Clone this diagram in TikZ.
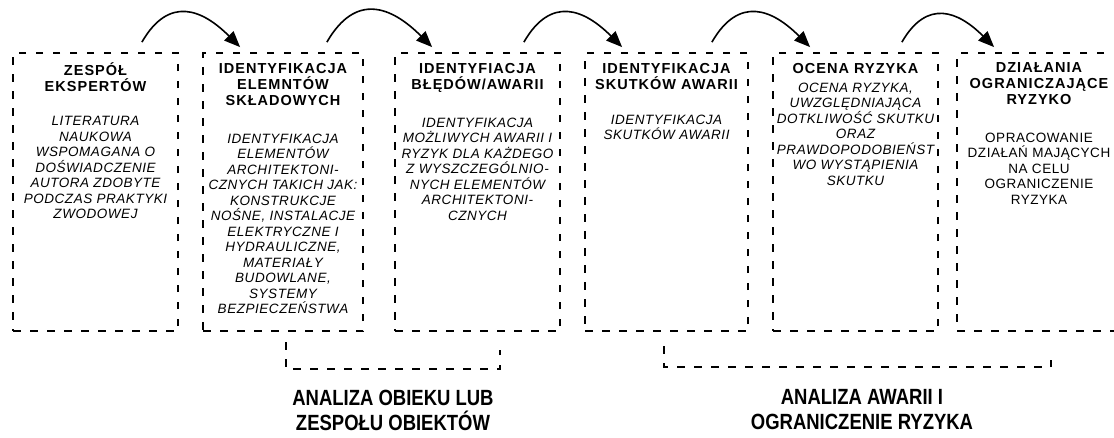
\documentclass[tikz,border=0pt]{standalone}
\usepackage{fontspec}
\setmainfont{Liberation Sans}
\newfontfamily\headfont[LetterSpace=7]{Liberation Sans}
\newfontfamily\bodyfont[LetterSpace=4]{Liberation Sans}
\newfontfamily\labelfont[FakeStretch=0.84]{Liberation Sans}
\usetikzlibrary{positioning,arrows.meta}
\tikzset{
  dashbox/.style={draw, line width=1.8pt, dash pattern=on 7.5pt off 9.5pt,
    minimum height=278pt, inner sep=0pt},
  head/.style={font=\headfont\bfseries\fontsize{14.5}{16}\selectfont,
    align=center, inner sep=0pt},
  desc/.style={font=\bodyfont\itshape\fontsize{13.5}{15.5}\selectfont,
    align=center, inner sep=0pt},
  flow/.style={line width=1.6pt, -{Triangle[length=16pt,width=13pt]},
    out=60, in=135, looseness=1.4},
  bracket/.style={line width=1.8pt, dash pattern=on 7.5pt off 9.5pt},
  sumlabel/.style={font=\labelfont\bfseries\fontsize{22}{25}\selectfont,
    align=center, inner sep=0pt}
}
\begin{document}
\begin{tikzpicture}[x=1pt,y=-1pt]
  \useasboundingbox (0,0) rectangle (1114,437);
  % steps
  \node[dashbox, minimum width=165pt] (b1) at (95.5,192) {};
  \node[dashbox, minimum width=160pt] (b2) at (283,192) {};
  \node[dashbox, minimum width=165pt] (b3) at (477.5,192) {};
  \node[dashbox, minimum width=163pt] (b4) at (666.5,192) {};
  \node[dashbox, minimum width=165pt] (b5) at (855.5,192) {};
  \node[dashbox, minimum width=164pt] (b6) at (1039,192) {};
  % titles
  \node[head, below=10pt of b1.north] (h1) {ZESPÓŁ\\EKSPERTÓW};
  \node[head, below=11pt of b2.north] (h2) {IDENTYFIKACJA\\ELEMNTÓW\\SKŁADOWYCH};
  \node[head, below=11pt of b3.north] (h3) {IDENTYFIACJA\\BŁĘDÓW/AWARII};
  \node[head, below=11pt of b4.north] (h4) {IDENTYFIKACJA\\SKUTKÓW AWARII};
  \node[head, below=11pt of b5.north] (h5) {OCENA RYZYKA};
  \node[head, below=10pt of b6.north] (h6) {DZIAŁANIA\\OGRANICZAJĄCE\\RYZYKO};
  % descriptions
  \node[desc, below=25pt of h1] (d1) {LITERATURA\\NAUKOWA\\WSPOMAGANA O\\DOŚWIADCZENIE\\AUTORA ZDOBYTE\\PODCZAS PRAKTYKI\\ZWODOWEJ};
  \node[desc, below=28pt of h2] (d2) {IDENTYFIKACJA\\ELEMENTÓW\\ARCHITEKTONI-\\CZNYCH TAKICH JAK:\\KONSTRUKCJE\\NOŚNE, INSTALACJE\\ELEKTRYCZNE I\\HYDRAULICZNE,\\MATERIAŁY\\BUDOWLANE,\\SYSTEMY\\BEZPIECZEŃSTWA};
  \node[desc, below=25pt of h3] (d3) {IDENTYFIKACJA\\MOŻLIWYCH AWARII I\\RYZYK DLA KAŻDEGO\\Z WYSZCZEGÓLNIO-\\NYCH ELEMENTÓW\\ARCHITEKTONI-\\CZNYCH};
  \node[desc, below=25pt of h4] (d4) {IDENTYFIKACJA\\SKUTKÓW AWARII};
  \node[desc, below=9pt of h5] (d5) {OCENA RYZYKA,\\UWZGLĘDNIAJĄCA\\DOTKLIWOŚĆ SKUTKU\\ORAZ\\PRAWDOPODOBIEŃST\\WO WYSTĄPIENIA\\SKUTKU};
  \node[desc, font=\bodyfont\fontsize{13.5}{15.5}\selectfont, below=28pt of h6] (d6) {OPRACOWANIE\\DZIAŁAŃ MAJĄCYCH\\NA CELU\\OGRANICZENIE\\RYZYKA};
  % arrows between steps
  \foreach \a/\b in {b1/b2,b2/b3,b3/b4,b4/b5,b5/b6}
    \draw[flow] ([xshift=-37pt,yshift=10pt]\a.north east) to ([xshift=38pt,yshift=5pt]\b.north west);
  % groups
  \draw[bracket] (286,342) |- (500,369) -- (500,350);
  \draw[bracket] (664,346) |- (1051,367) -- (1051,353);
  \node[sumlabel] (s1) at (393,410) {ANALIZA OBIEKU LUB\\ZESPOŁU OBIEKTÓW};
  \node[sumlabel] (s2) at (862,410) {ANALIZA AWARII I\\OGRANICZENIE RYZYKA};
\end{tikzpicture}
\end{document}
